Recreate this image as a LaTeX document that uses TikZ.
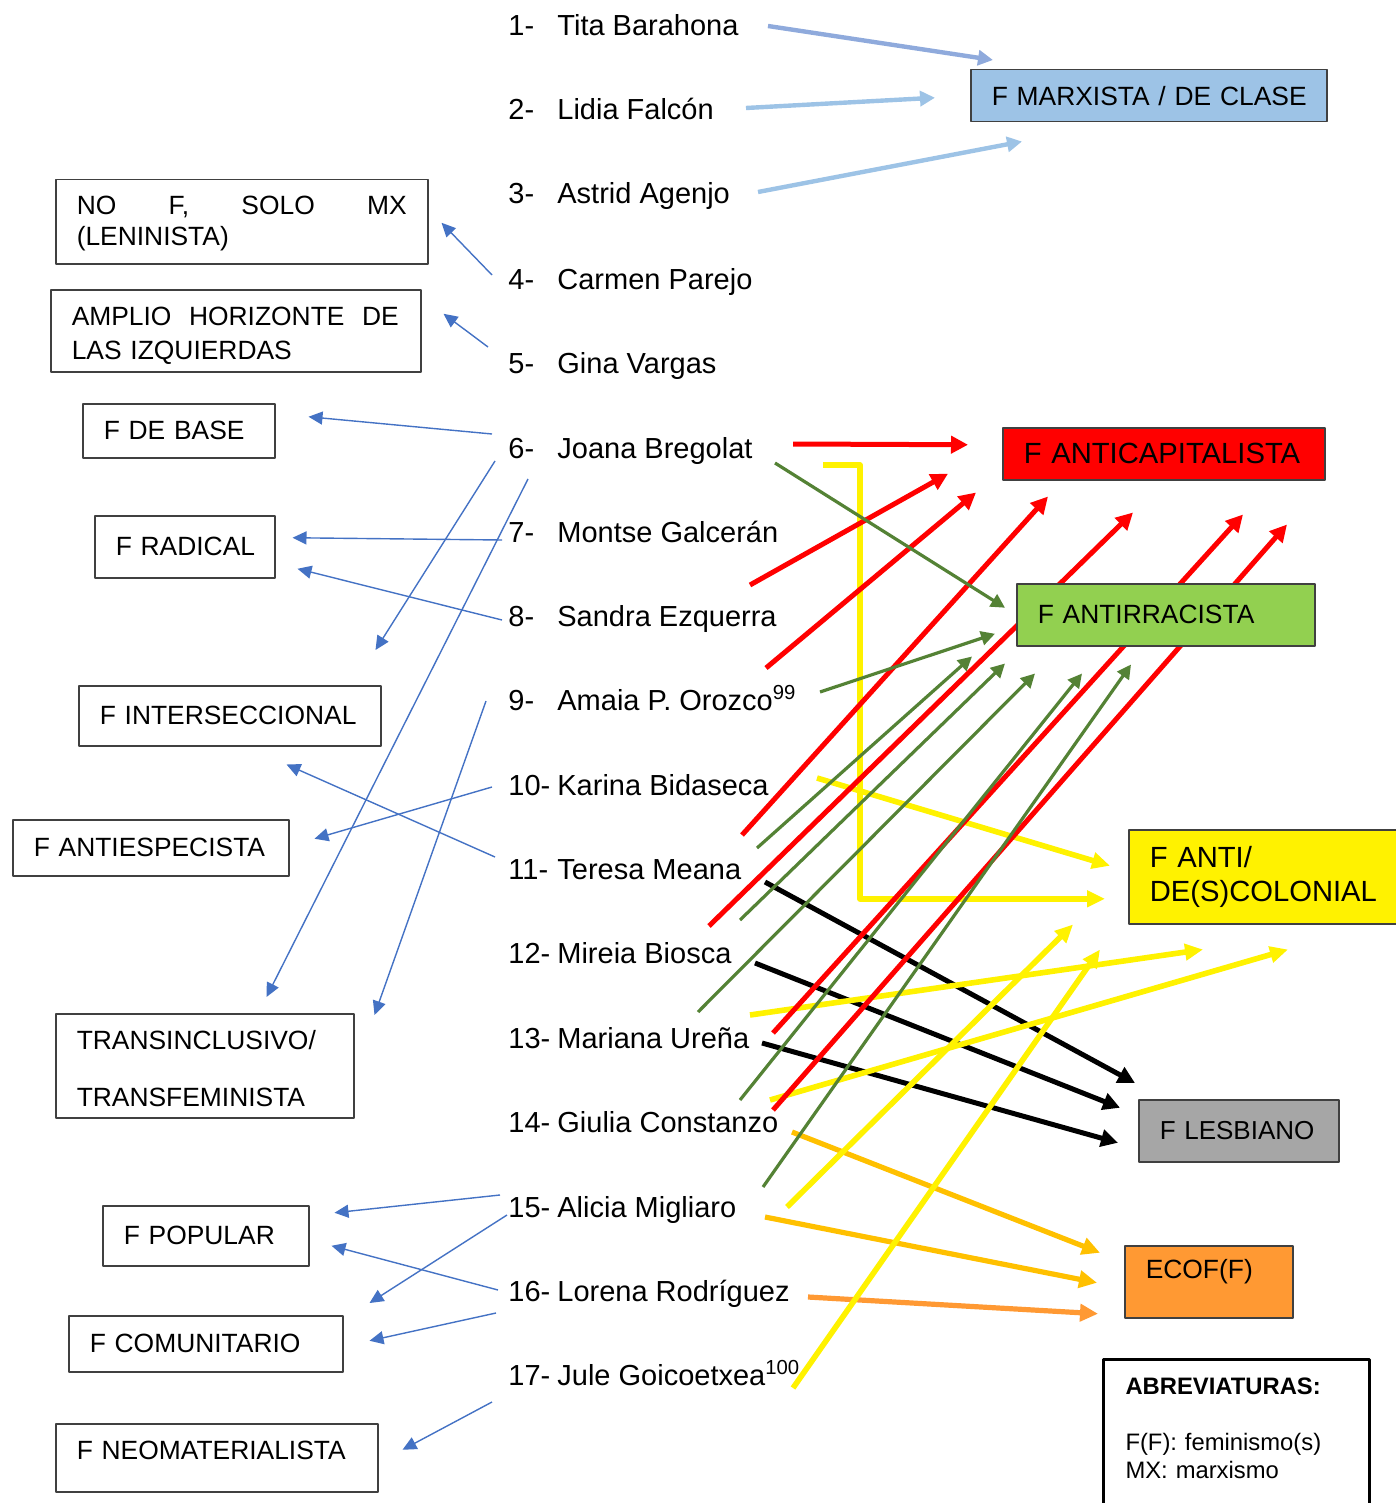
\documentclass[tikz,border=0pt]{standalone}
\usepackage{fontspec}
\setmainfont{Liberation Sans}
\usetikzlibrary{arrows.meta}
\definecolor{azulflecha}{HTML}{4472C4}
\definecolor{azulmx}{HTML}{9DC3E6}
\definecolor{azulmxb}{HTML}{8FAADC}
\definecolor{verdeflecha}{HTML}{548235}
\definecolor{verdecaja}{HTML}{92D050}
\definecolor{oro}{HTML}{FFC000}
\definecolor{naranja}{HTML}{FF9933}
\definecolor{gris}{HTML}{A6A6A6}
\newcommand{\persona}[2]{\makebox[24.5pt][l]{#1-}#2}

\begin{document}
\begin{tikzpicture}[x=0.5pt,y=-0.5pt,line join=round,
	nombre/.style={anchor=base west,inner sep=0pt,font=\fontsize{14.5}{17}\selectfont},
	caja/.style={draw=black!75,line width=0.75pt,anchor=north west,inner xsep=10.5pt,inner ysep=0pt,align=left,font=\fontsize{13.2}{15.5}\selectfont},
	fazul/.style={-{Triangle[length=7pt,width=6.5pt]},line width=0.7pt,color=azulflecha},
	fmx/.style={-{Triangle[length=7.5pt,width=7.5pt]},line width=2.2pt},
	froja/.style={-{Triangle[length=8.5pt,width=8.5pt]},line width=2.5pt,color=red},
	fverde/.style={-{Triangle[length=7pt,width=7pt]},line width=1.6pt,color=verdeflecha},
	famarilla/.style={-{Triangle[length=9pt,width=8pt]},line width=2.8pt,color=yellow},
	fnegra/.style={-{Triangle[length=8.5pt,width=8.5pt]},line width=2.5pt,color=black},
	fnaranja/.style={-{Triangle[length=9pt,width=8.5pt]},line width=2.6pt,color=oro}]
	\useasboundingbox (0,0) rectangle (1396,1503);
	\clip (0,0) rectangle (1396,1503);
	%%%% NOMBRES
	\node[nombre] (p1) at (508,36) {\persona{1}{Tita Barahona}};
	\node[nombre] (p2) at (508,120) {\persona{2}{Lidia Falcón}};
	\node[nombre] (p3) at (508,204) {\persona{3}{Astrid Agenjo}};
	\node[nombre] (p4) at (508,289) {\persona{4}{Carmen Parejo}};
	\node[nombre] (p5) at (508,373) {\persona{5}{Gina Vargas}};
	\node[nombre] (p6) at (508,458) {\persona{6}{Joana Bregolat}};
	\node[nombre] (p7) at (508,542) {\persona{7}{Montse Galcerán}};
	\node[nombre] (p8) at (508,626) {\persona{8}{Sandra Ezquerra}};
	\node[nombre] (p9) at (508,710) {\persona{9}{Amaia P. Orozco\textsuperscript{99}}};
	\node[nombre] (p10) at (508,795) {\persona{10}{Karina Bidaseca}};
	\node[nombre] (p11) at (508,879) {\persona{11}{Teresa Meana}};
	\node[nombre] (p12) at (508,963) {\persona{12}{Mireia Biosca}};
	\node[nombre] (p13) at (508,1048) {\persona{13}{Mariana Ureña}};
	\node[nombre] (p14) at (508,1132) {\persona{14}{Giulia Constanzo}};
	\node[nombre] (p15) at (508,1217) {\persona{15}{Alicia Migliaro}};
	\node[nombre] (p16) at (508,1301) {\persona{16}{Lorena Rodríguez}};
	\node[nombre] (p17) at (508,1385) {\persona{17}{Jule Goicoetxea\textsuperscript{100}}};

	%%%% CAJAS IZQUIERDA
	\node[caja,minimum width=186pt,minimum height=42pt,text width=165pt] (nof) at (55,179) {\rule{0pt}{11pt}\makebox[165pt][s]{NO\hfill F,\hfill SOLO\hfill MX}\\(LENINISTA)};
	\node[caja,minimum width=185pt,minimum height=41pt,text width=164pt,font=\fontsize{13.2}{17}\selectfont] (amp) at (50,289) {\rule{0pt}{14.5pt}\makebox[163.5pt][s]{AMPLIO\hfill HORIZONTE\hfill DE}\\LAS IZQUIERDAS};
	\node[caja,minimum width=96pt,minimum height=27pt,text width=75pt] (base) at (82,403) {F DE BASE};
	\node[caja,minimum width=90pt,minimum height=31pt,text width=69pt] (radical) at (94,515) {\mbox{F RADICAL}};
	\node[caja,minimum width=151pt,minimum height=30pt,text width=130pt] (inter) at (78,685) {\mbox{F INTERSECCIONAL}};
	\node[caja,minimum width=138pt,minimum height=28pt,text width=117pt] (antiesp) at (12,819) {\mbox{F ANTIESPECISTA}};
	\node[caja,minimum width=149pt,minimum height=52pt,text width=128pt,font=\fontsize{13.2}{28.5}\selectfont] (trans) at (55,1013) {\rule{0pt}{12.5pt}TRANSINCLUSIVO/\\TRANSFEMINISTA};
	\node[caja,minimum width=103pt,minimum height=30pt,text width=82pt] (popular) at (102,1205) {F POPULAR};
	\node[caja,minimum width=137pt,minimum height=28pt,text width=116pt] (comun) at (68,1315) {F COMUNITARIO};
	\node[caja,minimum width=161pt,minimum height=34pt,text width=140pt] (neomat) at (55,1423) {F NEOMATERIALISTA\rule[-7pt]{0pt}{7pt}};

	%%%% CAJAS DERECHA
	\node[caja,fill=azulmx,minimum width=178pt,minimum height=26pt,text width=157pt] (mx) at (970,69) {\mbox{F MARXISTA / DE CLASE}};
	\node[caja,fill=red,minimum width=161pt,minimum height=26pt,text width=140pt,font=\fontsize{14.6}{17}\selectfont] (acap) at (1002,427) {\mbox{F ANTICAPITALISTA}};
	\node[caja,fill=yellow,minimum width=150pt,minimum height=47pt,text width=129pt,font=\fontsize{14.6}{17}\selectfont] (desc) at (1128,829) {F ANTI/\\DE(S)COLONIAL};
	\node[caja,fill=gris,minimum width=100pt,minimum height=31pt,text width=79pt,font=\fontsize{13}{15.5}\selectfont] (lesb) at (1138,1099) {F LESBIANO};
	\node[caja,fill=naranja,minimum width=84pt,minimum height=36pt,text width=63pt] (ecof) at (1124,1245) {ECOF(F)\rule[-13pt]{0pt}{13pt}};
	\node[draw=black,line width=1.5pt,anchor=north west,inner xsep=11pt,inner ysep=9.4pt,align=left,text width=111pt,font=\fontsize{11.9}{14}\selectfont] (abrev) at (1102,1358) {\textbf{ABREVIATURAS:}\\[14pt]F(F): feminismo(s)\\MX: marxismo\\\mbox{}\\\mbox{}};

	%%%% FLECHAS IZQUIERDA
	\draw[fazul] ([shift={(-16,-14)}]p4.base west) -- ([shift={(13,1)}]nof.east);
	\draw[fazul] ([shift={(-20,-26)}]p5.base west) -- ([shift={(22,-17)}]amp.east);
	\draw[fazul] ([shift={(-16,-24)}]p6.base west) -- ([shift={(33,-14)}]base.east);
	\draw[fazul] ([shift={(-13,3)}]p6.base west) -- ([shift={(-6,-35)}]inter.north east);
	\draw[fazul] ([shift={(20,21)}]p6.base west) -- ([shift={(-88,-16)}]trans.north east);
	\draw[fazul] ([shift={(-6,-2)}]p7.base west) -- ([shift={(17,-9)}]radical.east);
	\draw[fazul] ([shift={(-6,-6)}]p8.base west) -- ([shift={(22,22)}]radical.east);
	\draw[fazul] ([shift={(-22,-9)}]p9.base west) -- ([shift={(20,2)}]trans.north east);
	\draw[fazul] ([shift={(-16,-8)}]p10.base west) -- ([shift={(25,-9)}]antiesp.east);
	\draw[fazul] ([shift={(-13,-22)}]p11.base west) -- ([shift={(-95,18)}]inter.south east);
	\draw[fazul] ([shift={(-8,-22)}]p15.base west) -- ([shift={(25,-23)}]popular.east);
	\draw[fazul] ([shift={(-1,-2)}]p15.base west) -- ([shift={(26,-12)}]comun.north east);
	\draw[fazul] ([shift={(-10,-11)}]p16.base west) -- ([shift={(22,10)}]popular.east);
	\draw[fazul] ([shift={(-12,12)}]p16.base west) -- ([shift={(26,-3)}]comun.east);
	\draw[fazul] ([shift={(-16,17)}]p17.base west) -- ([shift={(24,-8)}]neomat.east);

	%%%% F MARXISTA
	\draw[fmx,azulmxb] ([shift={(260,-10)}]p1.base west) -- ([shift={(23,-9)}]mx.north west);
	\draw[fmx,azulmx] ([shift={(238,-12)}]p2.base west) -- ([shift={(-35,2)}]mx.west);
	\draw[fmx,azulmx] ([shift={(250,-12)}]p3.base west) -- ([shift={(52,19)}]mx.south west);

	%%%% F LESBIANO
	\draw[fnegra] ([shift={(257,3)}]p11.base west) -- ([shift={(-3,-16)}]lesb.north west);
	\draw[fnegra] ([shift={(247,0)}]p12.base west) -- ([shift={(-18,-23)}]lesb.west);
	\draw[fnegra] ([shift={(254,-5)}]p13.base west) -- ([shift={(-20,12)}]lesb.west);

	%%%% ECOF(F)
	\draw[fnaranja] ([shift={(284,0)}]p14.base west) -- ([shift={(-24,-29)}]ecof.west);
	\draw[fnaranja] ([shift={(257,0)}]p15.base west) -- ([shift={(-27,1)}]ecof.west);
	\draw[fnaranja,naranja] ([shift={(300,-4)}]p16.base west) -- ([shift={(-26,32)}]ecof.west);

	%%%% F ANTI/DE(S)COLONIAL
	\draw[famarilla] ([shift={(315,7)}]p6.base west) -- ++(37,0) |- ([shift={(-23,22)}]desc.west);
	\draw[famarilla] ([shift={(309,-17)}]p10.base west) -- ([shift={(-18,-11)}]desc.west);
	\draw[famarilla] ([shift={(242,-33)}]p13.base west) -- ([shift={(75,25)}]desc.south west);
	\draw[famarilla] ([shift={(262,-32)}]p14.base west) -- ([shift={(160,25)}]desc.south west);
	\draw[famarilla] ([shift={(279,-10)}]p15.base west) -- ([shift={(-55,0)}]desc.south west);
	\draw[famarilla] ([shift={(285,3)}]p17.base west) -- ([shift={(-28,25)}]desc.south west);

	%%%% F ANTICAPITALISTA
	\draw[froja] ([shift={(285,-14)}]p6.base west) -- ([shift={(-34,-9)}]acap.west);
	\draw[froja] ([shift={(242,43)}]p7.base west) -- ([shift={(-54,20)}]acap.west);
	\draw[froja] ([shift={(258,42)}]p8.base west) -- ([shift={(-26,12)}]acap.south west);
	\draw[froja] ([shift={(234,40)}]p10.base west) -- ([shift={(46,16)}]acap.south west);
	\draw[froja] ([shift={(201,47)}]p11.base west) -- ([shift={(131,32)}]acap.south west);
	\draw[froja] ([shift={(265,-15)}]p13.base west) -- ([shift={(241,34)}]acap.south west);
	\draw[froja] ([shift={(265,-22)}]p14.base west) -- ([shift={(285,44)}]acap.south west);

	%%%% F ANTIRRACISTA (encima de las rojas)
	\node[caja,fill=verdecaja,minimum width=149pt,minimum height=31pt,text width=128pt] (arac) at (1016,583) {F ANTIRRACISTA};
	\draw[fverde] ([shift={(267,5)}]p6.base west) -- ([shift={(-11,-7)}]arac.west);
	\draw[fverde] ([shift={(312,-18)}]p9.base west) -- ([shift={(-21,19)}]arac.west);
	\draw[fverde] ([shift={(249,-31)}]p11.base west) -- ([shift={(-44,10)}]arac.south west);
	\draw[fverde] ([shift={(232,-43)}]p12.base west) -- ([shift={(-11,17)}]arac.south west);
	\draw[fverde] ([shift={(190,-36)}]p13.base west) -- ([shift={(19,27)}]arac.south west);
	\draw[fverde] ([shift={(232,-32)}]p14.base west) -- ([shift={(66,27)}]arac.south west);
	\draw[fverde] ([shift={(255,-30)}]p15.base west) -- ([shift={(115,18)}]arac.south west);
\end{tikzpicture}
\end{document}
